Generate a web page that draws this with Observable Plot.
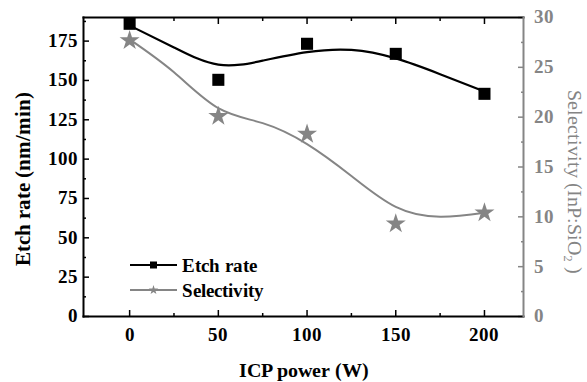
<!DOCTYPE html>
<html><head><meta charset="utf-8">
<script src="https://cdn.jsdelivr.net/npm/d3@7"></script>
<script src="https://cdn.jsdelivr.net/npm/@observablehq/plot@0.6"></script>
<style>
@font-face { font-family: "ChartSerif"; font-weight: 400;
  src: local("Liberation Serif"), local("LiberationSerif"), local("LiberationSerif-Regular"), local("Liberation Serif Regular"),
       local("DejaVu Serif"), local("DejaVuSerif"), local("Times New Roman"), local("TimesNewRomanPSMT"); }
@font-face { font-family: "ChartSerif"; font-weight: 700;
  src: local("Liberation Serif Bold"), local("LiberationSerif-Bold"),
       local("DejaVu Serif Bold"), local("DejaVuSerif-Bold"), local("Times New Roman Bold"), local("TimesNewRomanPS-BoldMT"); }
body{margin:0;background:#fff;}
#wrap{position:relative;width:587px;height:382px;overflow:hidden;}
#legend{position:absolute;left:0;top:0;}
</style></head><body><div id="wrap"></div>
<script>
// measured points
const power = [0, 50, 100, 150, 200];
const etchRate = [186, 150.4, 173.3, 166.9, 141.5];
const selectivity = [27.7, 20.1, 18.3, 9.3, 10.4];
// smooth fit curves
const fitPower = [0, 25, 50, 75, 100, 125, 150, 175, 200];
const etchFit = [184.9, 171, 160, 162.6, 168, 169.4, 164, 154, 143];
const selFit = [27.8, 24.5, 20.9, 19.4, 17.3, 14.1, 11.0, 10.0, 10.4];
// ticks
const xMajor = [0, 50, 100, 150, 200];
const xMinor = [25, 75, 125, 175];
const yLeftMajor = [0, 25, 50, 75, 100, 125, 150, 175];
const yLeftMinor = [12.5, 37.5, 62.5, 87.5, 112.5, 137.5, 162.5, 187.5];
const yRightMajor = [0, 5, 10, 15, 20, 25, 30];
const yRightMinor = [2.5, 7.5, 12.5, 17.5, 22.5, 27.5];
const xTitle = "ICP power (W)";
const yLeftTitle = "Etch rate (nm/min)";
const yRightTitle = "Selectivity (InP:SiO\u2082 )";
const legendItems = ["Etch rate", "Selectivity"];
const leftMax = 190, rightMax = 30;

const FONT = "ChartSerif, 'Liberation Serif', 'DejaVu Serif', serif";
const k = leftMax / rightMax;
const GRAY = "#858585";
const blank = () => "";

const pts = power.map((p, i) => ({p, e: etchRate[i], s: selectivity[i] * k}));
const fit = fitPower.map((p, i) => ({p, e: etchFit[i], s: selFit[i] * k}));

const chart = Plot.plot({
  width: 587, height: 382,
  marginLeft: 83, marginRight: 64, marginTop: 17, marginBottom: 66,
  style: {fontFamily: FONT, fontSize: "18.5px", fontWeight: "bold", background: "white", color: "black"},
  x: {domain: [-26, 222]},
  y: {domain: [0, leftMax]},
  marks: [
    Plot.axisX(xMajor, {anchor: "bottom", tickSize: -6, tickPadding: 17, label: null, strokeWidth: 1.5}),
    Plot.axisX(xMinor, {anchor: "bottom", tickSize: -3, tickFormat: blank, label: null, strokeWidth: 1.5}),
    Plot.axisX(xMajor, {anchor: "top", tickSize: -6, tickFormat: blank, label: null, strokeWidth: 1.5}),
    Plot.axisX(xMinor, {anchor: "top", tickSize: -3, tickFormat: blank, label: null, strokeWidth: 1.5}),
    Plot.axisY(yLeftMajor, {anchor: "left", tickSize: -6, tickPadding: 12, label: null, strokeWidth: 1.5}),
    Plot.axisY(yLeftMinor, {anchor: "left", tickSize: -3, tickFormat: blank, label: null, strokeWidth: 1.5}),
    Plot.axisY(yRightMajor.map(v => v * k), {anchor: "right", tickSize: -6, tickPadding: 16, label: null,
      tickFormat: d => String(Math.round(d / k)), stroke: GRAY, fill: GRAY, strokeWidth: 1.5}),
    Plot.axisY(yRightMinor.map(v => v * k), {anchor: "right", tickSize: -3, tickFormat: blank, label: null,
      stroke: GRAY, strokeWidth: 1.5}),
    Plot.frame({anchor: "left", stroke: "black", strokeWidth: 2}),
    Plot.frame({anchor: "top", stroke: "black", strokeWidth: 2}),
    Plot.frame({anchor: "bottom", stroke: "black", strokeWidth: 2}),
    Plot.frame({anchor: "right", stroke: GRAY, strokeWidth: 2}),
    Plot.line(fit, {x: "p", y: "s", curve: "natural", stroke: GRAY, strokeWidth: 2}),
    Plot.line(fit, {x: "p", y: "e", curve: "natural", stroke: "black", strokeWidth: 2.2}),
    Plot.dot(pts, {x: "p", y: "s", symbol: "star", fill: GRAY, stroke: "none", r: 6.3}),
    Plot.dot(pts, {x: "p", y: "e", symbol: "square", fill: "black", stroke: "none", r: 6.8}),
    Plot.text([xTitle], {text: d => d, frameAnchor: "bottom", dy: 54, textAnchor: "middle", lineAnchor: "middle",
      fontSize: 20, fontWeight: "bold", fill: "black"}),
    Plot.text([yLeftTitle], {text: d => d, frameAnchor: "left", dx: -60, dy: 12, rotate: -90, textAnchor: "middle", lineAnchor: "middle",
      fontSize: 20.5, fontWeight: "bold", fill: "black"}),
    Plot.text([yRightTitle], {text: d => d, frameAnchor: "right", dx: 51, dy: 15, rotate: 90, textAnchor: "middle", lineAnchor: "middle",
      fontSize: 20, fontWeight: "normal", fill: GRAY})
  ]
});
const wrap = document.getElementById("wrap");
wrap.appendChild(chart);

// legend overlay
const lg = d3.select(wrap).append("svg").attr("id", "legend").attr("width", 587).attr("height", 382)
  .style("font-family", FONT).style("font-weight", "bold").style("font-size", "18.5px");
const styles = [{c: "black", sym: d3.symbolSquare, size: 49}, {c: GRAY, sym: d3.symbolStar, size: 28}];
legendItems.forEach((name, i) => {
  const y = 265 + i * 25;
  const st = styles[i];
  const g = lg.append("g");
  g.append("line").attr("x1", 130).attr("x2", 177).attr("y1", y).attr("y2", y).attr("stroke", st.c).attr("stroke-width", 2);
  g.append("path").attr("d", d3.symbol(st.sym, st.size)()).attr("transform", `translate(153.5,${y})`).attr("fill", st.c);
  g.append("text").attr("x", 182).attr("y", y + 6.5).attr("fill", "black").text(name);
});
</script>
</body></html>
